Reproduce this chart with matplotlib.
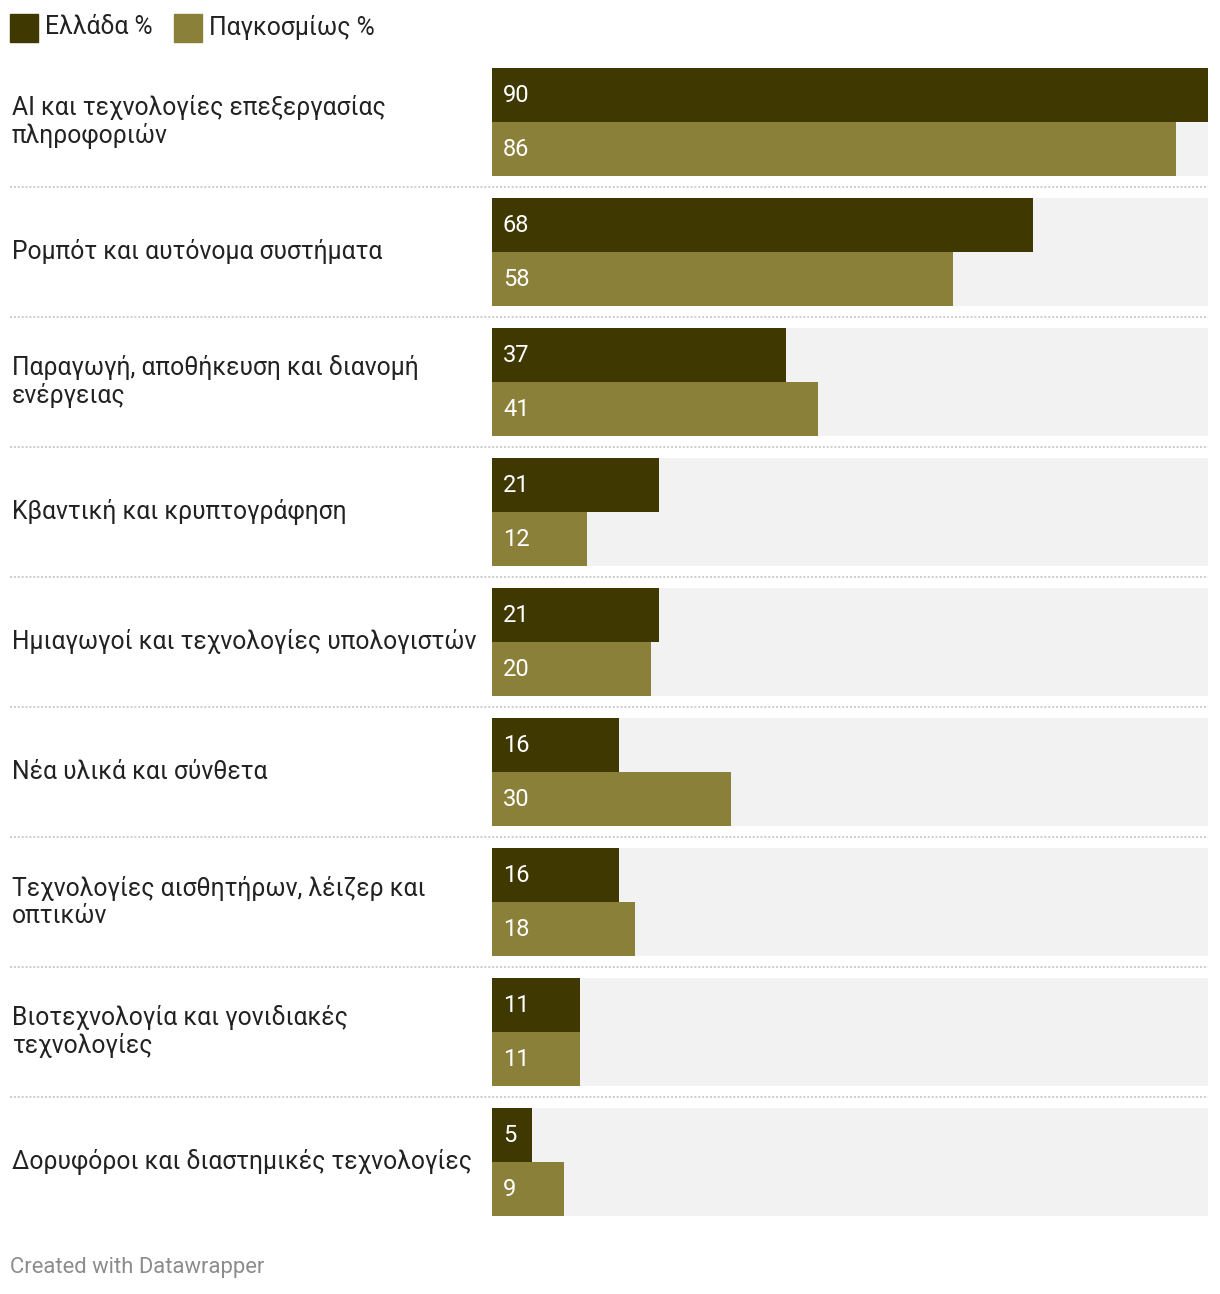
import matplotlib.pyplot as plt
from matplotlib.transforms import blended_transform_factory

plt.rcParams['font.family'] = ['Roboto', 'DejaVu Sans']

categories = [
    "AI και τεχνολογίες επεξεργασίας\nπληροφοριών",
    "Ρομπότ και αυτόνομα συστήματα",
    "Παραγωγή, αποθήκευση και διανομή\nενέργειας",
    "Κβαντική και κρυπτογράφηση",
    "Ημιαγωγοί και τεχνολογίες υπολογιστών",
    "Νέα υλικά και σύνθετα",
    "Τεχνολογίες αισθητήρων, λέιζερ και\nοπτικών",
    "Βιοτεχνολογία και γονιδιακές\nτεχνολογίες",
    "Δορυφόροι και διαστημικές τεχνολογίες",
]
greece = [90, 68, 37, 21, 21, 16, 16, 11, 5]
world = [86, 58, 41, 12, 20, 30, 18, 11, 9]
series_names = ["Ελλάδα %", "Παγκοσμίως %"]

DARK = "#3f3800"
LIGHT = "#8a803a"
BG = "#f2f2f2"

W, H = 1220, 1294
fig = plt.figure(figsize=(W / 100, H / 100), dpi=100)

# bar area in pixels: x 492..1208, groups start at y=68 with 130px pitch
pitch = 130
top = 68 - 11
bottom = top + pitch * len(categories)
ax = fig.add_axes([492 / W, 1 - bottom / H, (1208 - 492) / W, (bottom - top) / H])
ax.set_xlim(0, max(greece))
ax.set_ylim(len(categories) - 0.5, -0.5)
ax.axis('off')

bh = 54 / pitch
idx = list(range(len(categories)))
ax.barh(idx, [max(greece)] * len(idx), height=2 * bh, color=BG, linewidth=0)
ax.barh([i - bh / 2 for i in idx], greece, height=bh, color=DARK, linewidth=0)
ax.barh([i + bh / 2 for i in idx], world, height=bh, color=LIGHT, linewidth=0)

px = blended_transform_factory(fig.transFigure, ax.transData)
for i, (cat, g, w) in enumerate(zip(categories, greece, world)):
    ax.text(12 / W, i, cat, transform=px, ha='left', va='center',
            fontsize=17.7, color='#222222', linespacing=1.15)
    ax.text(503 / W, i - bh / 2, str(g), transform=px, ha='left', va='center',
            fontsize=17, color='white')
    ax.text(503 / W, i + bh / 2, str(w), transform=px, ha='left', va='center',
            fontsize=17, color='white')
    if i < len(categories) - 1:
        ax.plot([10 / W, 1208 / W], [i + 0.5, i + 0.5], transform=px, clip_on=False,
                color='#cccccc', linewidth=1.4, linestyle=(0, (1, 1)))

# legend
for x0, name, col in [(10, series_names[0], DARK), (174, series_names[1], LIGHT)]:
    fig.patches.append(plt.Rectangle((x0 / W, 1 - 42 / H), 28 / W, 28 / H,
                                     transform=fig.transFigure, color=col))
    fig.text((x0 + 35) / W, 1 - 27 / H, name, ha='left', va='center',
             fontsize=17.8, color='#222222')

fig.text(10 / W, 1 - 1268 / H, "Created with Datawrapper", ha='left', va='center',
         fontsize=15.8, color='#8c8c8c')

fig.savefig('out.png', dpi=100, facecolor='white')
